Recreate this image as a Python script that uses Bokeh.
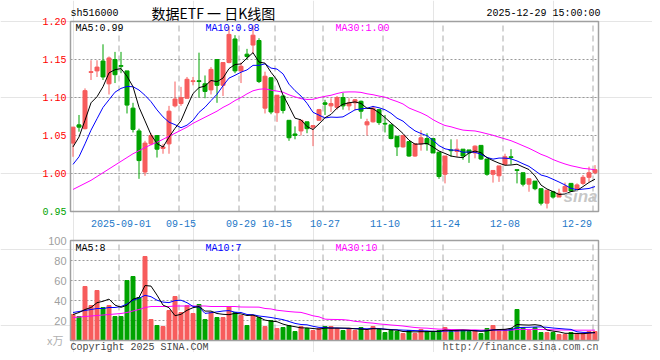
import numpy as np
import pandas as pd
from bokeh.plotting import figure
from bokeh.models import Range1d, ColumnDataSource
from bokeh.core.properties import value
from bokeh.embed import file_html
from bokeh.resources import INLINE

# ---------------- data ----------------
opens = [1.040, 1.064, 1.059, 1.133, 1.135, 1.148, 1.118, 1.150, 1.142, 1.135,
         1.086, 1.056, 1.002, 1.039, 1.050, 1.033, 1.039, 1.089, 1.092, 1.099,
         1.121, 1.122, 1.118, 1.110, 1.150, 1.116, 1.146, 1.177, 1.135, 1.157,
         1.169, 1.175, 1.086, 1.126, 1.080, 1.102, 1.070, 1.052, 1.056, 1.068,
         1.061, 1.070, 1.093, 1.089, 1.087, 1.100, 1.089, 1.093, 1.095, 1.064,
         1.068, 1.084, 1.066, 1.064, 1.049, 1.035, 1.042, 1.023, 1.039, 1.046,
         1.046, 1.028, 0.999, 1.031, 1.029, 1.032, 1.031, 1.027, 1.037, 1.019,
         0.999, 0.997, 1.012, 1.022, 1.005, 1.001, 0.986, 0.990, 0.980, 0.961,
         0.976, 0.969, 0.976, 0.987, 0.979, 0.987, 0.995, 1.001]
highs = [1.061, 1.077, 1.112, 1.149, 1.149, 1.170, 1.154, 1.160, 1.160, 1.135,
         1.093, 1.059, 1.043, 1.053, 1.050, 1.039, 1.089, 1.121, 1.114, 1.127,
         1.127, 1.159, 1.129, 1.140, 1.150, 1.146, 1.194, 1.182, 1.146, 1.164,
         1.195, 1.178, 1.134, 1.127, 1.103, 1.102, 1.070, 1.062, 1.070, 1.068,
         1.063, 1.085, 1.097, 1.099, 1.102, 1.106, 1.099, 1.098, 1.096, 1.072,
         1.089, 1.085, 1.077, 1.064, 1.049, 1.051, 1.042, 1.039, 1.057, 1.053,
         1.047, 1.028, 1.023, 1.045, 1.045, 1.032, 1.031, 1.037, 1.037, 1.019,
         1.004, 1.010, 1.026, 1.032, 1.005, 1.001, 0.994, 0.990, 0.980, 0.978,
         0.976, 0.980, 0.988, 0.987, 0.987, 0.998, 1.009, 1.011]
lows = [1.022, 1.055, 1.058, 1.123, 1.127, 1.123, 1.104, 1.119, 1.132, 1.079,
        1.054, 0.993, 0.997, 1.037, 1.021, 1.026, 1.026, 1.087, 1.089, 1.099,
        1.116, 1.100, 1.099, 1.104, 1.093, 1.102, 1.145, 1.132, 1.119, 1.150,
        1.158, 1.119, 1.079, 1.078, 1.068, 1.079, 1.043, 1.045, 1.050, 1.053,
        1.036, 1.070, 1.077, 1.081, 1.084, 1.084, 1.083, 1.083, 1.072, 1.050,
        1.067, 1.064, 1.054, 1.045, 1.023, 1.034, 1.022, 1.022, 1.030, 1.030,
        1.027, 0.993, 0.987, 1.022, 1.022, 1.018, 1.014, 1.020, 1.018, 0.997,
        0.988, 0.989, 1.012, 1.012, 0.987, 0.983, 0.976, 0.978, 0.958, 0.954,
        0.967, 0.969, 0.976, 0.976, 0.978, 0.985, 0.989, 0.999]
closes = [1.061, 1.061, 1.109, 1.134, 1.140, 1.127, 1.152, 1.130, 1.141, 1.090,
          1.058, 1.017, 1.040, 1.050, 1.032, 1.035, 1.082, 1.098, 1.100, 1.124,
          1.122, 1.121, 1.108, 1.137, 1.116, 1.146, 1.183, 1.135, 1.141, 1.154,
          1.182, 1.121, 1.128, 1.081, 1.103, 1.083, 1.047, 1.050, 1.070, 1.059,
          1.063, 1.084, 1.091, 1.092, 1.100, 1.089, 1.093, 1.097, 1.082, 1.068,
          1.086, 1.067, 1.065, 1.046, 1.035, 1.050, 1.023, 1.039, 1.047, 1.039,
          1.027, 0.996, 1.023, 1.030, 1.032, 1.023, 1.027, 1.036, 1.019, 0.999,
          1.004, 1.010, 1.022, 1.021, 1.004, 0.986, 0.993, 0.980, 0.961, 0.978,
          0.969, 0.974, 0.983, 0.977, 0.985, 0.995, 1.001, 1.005]
volumes = [26, 24, 54, 35, 50, 33, 35, 24, 24, 60,
           64, 43, 84, 21, 15, 14, 30, 44, 28, 35,
           27, 36, 21, 28, 23, 23, 34, 28, 25, 15,
           25, 23, 14, 20, 12, 13, 15, 9, 14, 12,
           10, 12, 14, 14, 12, 10, 12, 10, 13, 10,
           14, 11, 8, 10, 9, 7, 10, 7, 11, 9,
           9, 10, 13, 9, 10, 10, 9, 10, 7, 12,
           15, 11, 11, 12, 31, 13, 10, 13, 8, 8,
           8, 6, 6, 8, 7, 7, 9, 9]

# moving-average values at the left edge (their windows start before the chart)
ma5_head = [1.035, 1.048, 1.070, 1.093]
ma10_head = [1.012, 1.022, 1.039, 1.057, 1.072, 1.087, 1.097, 1.107, 1.112]
ma30_head = [0.979, 0.983, 0.987, 0.991, 0.996, 1.001, 1.006, 1.011, 1.016, 1.021,
             1.026, 1.030, 1.034, 1.038, 1.041, 1.045, 1.049, 1.053, 1.057, 1.061,
             1.066, 1.070, 1.074, 1.078, 1.082, 1.087, 1.091, 1.096, 1.100]
vma5_head = [26, 28, 31, 33]
vma10_head = [28, 29, 30, 31, 32, 32, 33, 33, 34]
vma30_head = [23, 23.5, 24, 24.5, 25, 25.5, 26, 26.5, 27, 28,
              29.5, 31, 33, 34, 34, 34, 34, 34.5, 34.5, 34.5,
              34.5, 34.5, 34.5, 34, 34, 34, 34, 34, 33.5]

date_labels = ["2025-09-01", "09-15", "09-29", "10-15", "10-27", "11-10", "11-24", "12-08", "12-29"]
date_index = [8, 18, 28, 34, 42, 52, 62, 72, 87]
price_ticks = [1.20, 1.15, 1.10, 1.05, 1.00, 0.95]
price_tick_colors = ["#ff0000", "#ff0000", "#ff0000", "#ff0000", "#ff0000", "#00a300"]
vol_ticks = [100, 80, 60, 40, 20]
legend_main = ["MA5:0.99", "MA10:0.98", "MA30:1.00"]
legend_vol = ["MA5:8", "MA10:7", "MA30:10"]
legend_colors = ["black", "#0000ff", "#ff00ff"]

# ---------------- derived ----------------
n = len(closes)
x = np.arange(n)
o = np.array(opens); c = np.array(closes)
RED = "#f75c5c"
GREEN = "#00a300"
colors = [RED if u else GREEN for u in (c >= o)]


def moving(series, win, head):
    s = pd.Series(series, dtype=float).rolling(win).mean().to_numpy()
    s[:len(head)] = head
    return s


src = ColumnDataSource(dict(
    x=x, high=highs, low=lows,
    top=np.maximum(o, c), bottom=np.minimum(o, c), color=colors,
    vol=volumes,
    ma5=moving(closes, 5, ma5_head), ma10=moving(closes, 10, ma10_head),
    ma30=moving(closes, 30, ma30_head),
    vma5=moving(volumes, 5, vma5_head), vma10=moving(volumes, 10, vma10_head),
    vma30=moving(volumes, 30, vma30_head),
))

# ---------------- canvas / scales ----------------
W, H = 652, 352
STEP = 6.0            # px per trading day
PPU = 760.0           # px per price unit
X_FIRST = 72.5        # px of first candle centre
P_TOP = 21.0          # px row of top price tick
V_TOP = 240.0         # px row of top volume tick

XL = -X_FIRST / STEP
YT = max(price_ticks) + P_TOP / PPU
VT = max(vol_ticks) + V_TOP


def xp(px):
    return XL + px / STEP


def yp(py):
    return YT - py / PPU


def vp(py):
    return VT - py


p = figure(width=W, height=H, title=None,
           x_range=Range1d(XL, XL + W / STEP), y_range=Range1d(yp(H), YT),
           output_backend="svg", toolbar_location=None,
           x_axis_location=None, y_axis_location=None, min_border=0)
p.extra_y_ranges = {"vol": Range1d(vp(H), VT)}
p.outline_line_color = None
p.background_fill_color = "white"
p.border_fill_color = "white"

X0 = -0.5 + 1.0 / 12.0      # left edge of the panels (2.5 px left of candle 0)
X1 = X0 + n
grid_pos = [i - 1.0 / 3.0 for i in date_index]
GRID = "#aaaaaa"
FRAME = "#a0a0a0"

# grids
p.segment(x0=grid_pos, y0=min(price_ticks), x1=grid_pos, y1=max(price_ticks),
          line_color=GRID, line_dash="6 4", line_width=1)
p.segment(x0=X0, y0=price_ticks[1:-1], x1=X1, y1=price_ticks[1:-1],
          line_color="#999999", line_dash="2 2", line_width=1)
p.segment(x0=grid_pos, y0=0, x1=grid_pos, y1=max(vol_ticks),
          line_color=GRID, line_dash="6 4", line_width=1, y_range_name="vol")
p.segment(x0=X0, y0=vol_ticks[1:], x1=X1, y1=vol_ticks[1:],
          line_color="#999999", line_dash="2 2", line_width=1, y_range_name="vol")

# candles
p.segment(x0="x", y0="low", x1="x", y1="high", color="color", line_width=1, source=src)
p.vbar(x="x", width=4 / 6, top="top", bottom="bottom", fill_color="color",
       line_color="color", line_width=1, source=src)
p.line("x", "ma30", color="#ff00ff", line_width=1, source=src)
p.line("x", "ma10", color="#0000ff", line_width=1, source=src)
p.line("x", "ma5", color="black", line_width=1, source=src)

# volume
p.vbar(x="x", width=4 / 6, top="vol", bottom=0, fill_color="color",
       line_color="color", line_width=1, source=src, y_range_name="vol")
p.line("x", "vma30", color="#ff00ff", line_width=1, source=src, y_range_name="vol")
p.line("x", "vma10", color="#0000ff", line_width=1, source=src, y_range_name="vol")
p.line("x", "vma5", color="black", line_width=1, source=src, y_range_name="vol")

# panel frames
p.quad(left=[X0], right=[X1], top=[max(price_ticks)], bottom=[min(price_ticks)],
       fill_color=None, line_color=FRAME, line_width=1.5)
p.quad(left=[X0], right=[X1], top=[max(vol_ticks)], bottom=[0],
       fill_color=None, line_color=FRAME, line_width=1.5, y_range_name="vol")

MONO = value("Liberation Mono")

# price tick labels
p.text(x=[xp(66)] * len(price_ticks), y=price_ticks, text=[f"{t:.2f}" for t in price_ticks],
       text_color=price_tick_colors, text_align="right", text_baseline="middle",
       text_font=MONO, text_font_size="10px")
# volume tick labels
p.text(x=[xp(66)] * len(vol_ticks), y=vol_ticks, text=[str(t) for t in vol_ticks],
       text_color="#a0a0a0", text_align="right", text_baseline="middle",
       text_font=value("Liberation Sans"), text_font_size="11px", y_range_name="vol")
# date labels
label_pos = date_index[:-1] + [date_index[-1] - 3]
p.text(x=label_pos, y=[yp(223)] * len(label_pos), text=date_labels,
       text_color="#1e78c8", text_align="center", text_baseline="middle",
       text_font=MONO, text_font_size="10px")

# legends
p.text(x=[xp(75), xp(205), xp(335)], y=[yp(22)] * 3, text=legend_main,
       text_color=legend_colors, text_baseline="top", text_font=MONO, text_font_size="10px")
p.text(x=[xp(75), xp(205), xp(335)], y=[vp(242)] * 3, text=legend_vol,
       text_color=legend_colors, text_baseline="top", text_font=MONO, text_font_size="10px",
       y_range_name="vol")

# header
p.text(x=[xp(70)], y=[yp(13)], text=["sh516000"], text_color="black",
       text_baseline="middle", text_font=MONO, text_font_size="10px")
p.text(x=[xp(151)], y=[yp(12.5)], text=["数据ETF 一 日K线图"], text_color="black",
       text_baseline="middle", text_font=value("Noto Sans CJK SC"), text_font_size="14px")
p.text(x=[xp(600)], y=[yp(13)], text=["2025-12-29 15:00:00"], text_color="black",
       text_align="right", text_baseline="middle", text_font=MONO, text_font_size="10px")

# watermark
p.text(x=[xp(597)], y=[yp(205)], text=["sina"], text_color="#bdbdbd", text_alpha=0.85,
       text_align="right", text_baseline="bottom", text_font=value("Liberation Sans"),
       text_font_size="17px", text_font_style="bold italic")

# footer
p.text(x=[xp(63)], y=[vp(339)], text=["x万"], text_color="#b0b0b0", text_align="right",
       text_baseline="middle", text_font=value("Noto Sans CJK SC"), text_font_size="11px",
       y_range_name="vol")
p.text(x=[xp(70)], y=[vp(341)], text=["Copyright 2025 SINA.COM"], text_color="#444444",
       text_baseline="top", text_font=MONO, text_font_size="10px", y_range_name="vol")
p.text(x=[xp(598)], y=[vp(341)], text=["http://finance.sina.com.cn"], text_color="#555555",
       text_align="right", text_baseline="top", text_font=MONO, text_font_size="10px",
       y_range_name="vol")

open("out.html", "w").write(file_html(p, INLINE))
